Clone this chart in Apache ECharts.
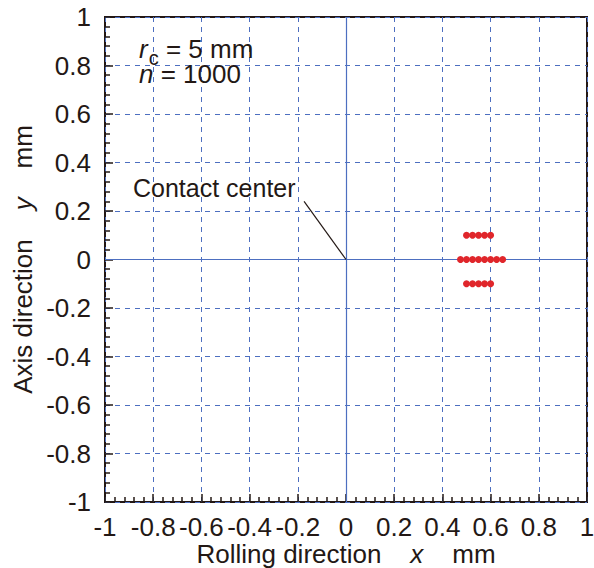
<!DOCTYPE html>
<html>
<head>
<meta charset="utf-8">
<script src="https://cdn.jsdelivr.net/npm/echarts@6/dist/echarts.min.js"></script>
<style>
  html, body { margin: 0; padding: 0; background: #fff; }
  #chart { width: 594px; height: 568px; }
</style>
</head>
<body>
<div id="chart"></div>
<script>
// Axis ranges (mm) and major tick step
const axisMin = -1;
const axisMax = 1;
const tickStep = 0.2;

// Contact points, three rows along the rolling direction
const upperRowX = [0.5, 0.525, 0.55, 0.575, 0.6];
const upperRowY = 0.1;
const middleRowX = [0.475, 0.5, 0.525, 0.55, 0.575, 0.6, 0.625, 0.65];
const middleRowY = 0;
const lowerRowX = [0.5, 0.525, 0.55, 0.575, 0.6];
const lowerRowY = -0.1;

// Leader line for the "Contact center" note: from the label to the origin
const leaderStart = [-0.174, 0.24];
const leaderEnd = [0, 0];
const centerLabel = 'Contact center';

const ink = '#231815';
const gridBlue = '#4d6fc0';
const font = '"Liberation Sans", Arial, Helvetica, sans-serif';
const fs = 26;

const points = []
  .concat(upperRowX.map(x => [x, upperRowY]))
  .concat(middleRowX.map(x => [x, middleRowY]))
  .concat(lowerRowX.map(x => [x, lowerRowY]));

function valueAxis(extra) {
  return Object.assign({
    type: 'value',
    min: axisMin,
    max: axisMax,
    interval: tickStep,
    nameMoveOverlap: false,
    axisLine: { show: false, onZero: false },
    axisTick: { show: true, inside: true, length: 8, lineStyle: { color: ink, width: 1.5 } },
    minorTick: { show: true, splitNumber: 5, length: 5, lineStyle: { color: ink, width: 1.5 } },
    splitLine: { show: true, lineStyle: { color: gridBlue, width: 1, type: [5, 5] } },
    nameTextStyle: {
      color: ink, fontSize: fs, fontFamily: font,
      rich: { it: { fontStyle: 'italic', fontSize: fs, fontFamily: font, color: ink } }
    }
  }, extra);
}

const chart = echarts.init(document.getElementById('chart'), null, { renderer: 'svg' });

chart.setOption({
  animation: false,
  grid: {
    left: 105, right: 7, top: 17, bottom: 66,
    containLabel: false,
    outerBoundsMode: 'none',
    show: true,
    borderColor: ink,
    borderWidth: 2,
    backgroundColor: 'transparent'
  },
  xAxis: valueAxis({
    name: 'Rolling direction    {it|x}    mm',
    nameLocation: 'middle',
    nameGap: 39,
    axisLabel: { color: ink, fontSize: fs, fontFamily: font, margin: 12 }
  }),
  yAxis: valueAxis({
    name: 'Axis direction    {it|y}    mm',
    nameLocation: 'middle',
    nameGap: 69,
    axisLabel: { color: ink, fontSize: fs, fontFamily: font, margin: 14 }
  }),
  graphic: [
    {
      type: 'text',
      left: 139,
      top: 36,
      z: 100,
      style: {
        text: '{i|r}{s|c}{n| = 5 mm}',
        fill: ink,
        font: fs + 'px ' + font,
        rich: {
          i: { fontStyle: 'italic', fontSize: fs, fontFamily: font, lineHeight: 25, verticalAlign: 'top', fill: ink },
          n: { fontSize: fs, fontFamily: font, lineHeight: 25, verticalAlign: 'top', fill: ink },
          s: { fontSize: 20, fontFamily: font, lineHeight: 11, verticalAlign: 'top', padding: [12, 0, 0, 1], fill: ink }
        }
      }
    },
    {
      type: 'text',
      left: 139,
      top: 61,
      z: 100,
      style: {
        text: '{i|n}{n| = 1000}',
        fill: ink,
        font: fs + 'px ' + font,
        rich: {
          i: { fontStyle: 'italic', fontSize: fs, fontFamily: font, lineHeight: 25, fill: ink },
          n: { fontSize: fs, fontFamily: font, lineHeight: 25, fill: ink }
        }
      }
    },
    {
      type: 'text',
      left: 133,
      top: 175,
      z: 100,
      style: { text: centerLabel, fill: ink, font: '25px ' + font }
    }
  ],
  series: [
    {
      type: 'scatter',
      data: points,
      symbol: 'circle',
      symbolSize: 7,
      itemStyle: { color: '#e0262b', opacity: 1 },
      z: 5,
      markLine: {
        silent: true,
        symbol: 'none',
        label: { show: false },
        animation: false,
        data: [
          [{ xAxis: 0, yAxis: axisMin, lineStyle: { color: gridBlue, width: 1.2, type: 'solid' } }, { xAxis: 0, yAxis: axisMax }],
          [{ xAxis: axisMin, yAxis: 0, lineStyle: { color: gridBlue, width: 1.2, type: 'solid' } }, { xAxis: axisMax, yAxis: 0 }],
          [{ coord: leaderStart, lineStyle: { color: ink, width: 1.2, type: 'solid' } }, { coord: leaderEnd }]
        ]
      }
    }
  ]
});
</script>
</body>
</html>
